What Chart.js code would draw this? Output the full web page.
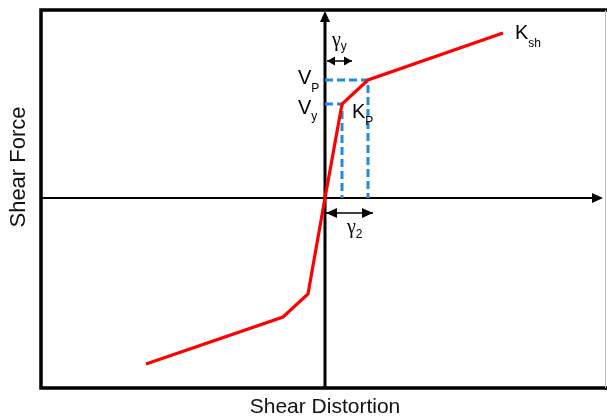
<!DOCTYPE html>
<html lang="en">
<head>
    <meta charset="UTF-8">
    <title>Shear Force vs Shear Distortion</title>
    <style>
        body { margin: 0; background: #fff; }
        #wrap { width: 607px; height: 419px; }
    </style>
</head>
<body>
    <div id="wrap"><canvas id="chart" width="607" height="419"></canvas></div>

    <script src="https://cdn.jsdelivr.net/npm/chart.js"></script>
    <script>
        // Curva fuerza-distorsión (unidades arbitrarias)
        const curveX = [-179, -42, -17, 0, 17, 43, 178];
        const curveY = [-166, -119, -96, 0, 94, 118, 165];

        // Puntos de fluencia y plástico
        const gammaY = 17, Vy = 94;
        const gamma2 = 43, Vp = 118;

        // Límites de los ejes
        const xMin = -284, xMax = 281;
        const yMin = -190, yMax = 188;

        // Etiquetas: texto, subíndice, posición (x, y en datos)
        const labels = [
            { t: 'V', s: 'P', x: -27, y: 114, dy: 8 },
            { t: 'V', s: 'y', x: -27, y: 84, dy: 6 },
            { t: 'K', s: 'P', x: 27, y: 80, dy: 7 },
            { t: 'K', s: 'sh', x: 190, y: 159, dy: 8 },
            { t: 'γ', s: 'y', x: 7, y: 152, dy: 4, serif: true },
            { t: 'γ', s: '2', x: 22, y: -35, dy: 5, serif: true }
        ];

        const FONT = '"Liberation Sans", Arial, sans-serif';
        const SERIF = '"Liberation Serif", "Times New Roman", serif';

        function pts(xs, ys) {
            return xs.map((x, i) => ({ x: x, y: ys[i] }));
        }

        function flecha(ctx, x, y, dir, len, half) {
            ctx.beginPath();
            ctx.moveTo(x, y);
            if (dir === 'right') { ctx.lineTo(x - len, y - half); ctx.lineTo(x - len, y + half); }
            if (dir === 'left')  { ctx.lineTo(x + len, y - half); ctx.lineTo(x + len, y + half); }
            if (dir === 'up')    { ctx.lineTo(x - half, y + len); ctx.lineTo(x + half, y + len); }
            ctx.closePath();
            ctx.fill();
        }

        const dibujo = {
            id: 'dibujo',
            beforeDatasetsDraw(chart) {
                const ctx = chart.ctx, a = chart.chartArea;
                ctx.save();
                ctx.strokeStyle = '#000';
                ctx.lineWidth = 3.5;
                ctx.beginPath();
                ctx.moveTo(a.right + 2, a.top);
                ctx.lineTo(a.left, a.top);
                ctx.lineTo(a.left, a.bottom);
                ctx.lineTo(a.right + 2, a.bottom);
                ctx.stroke();
                ctx.strokeStyle = '#bbb';
                ctx.lineWidth = 1;
                ctx.beginPath();
                ctx.moveTo(a.right - 0.5, a.top);
                ctx.lineTo(a.right - 0.5, a.bottom);
                ctx.stroke();
                ctx.restore();
            },
            afterDatasetsDraw(chart) {
                const ctx = chart.ctx, xs = chart.scales.x, ys = chart.scales.y;
                const px = v => xs.getPixelForValue(v), py = v => ys.getPixelForValue(v);
                ctx.save();
                ctx.fillStyle = '#000';
                ctx.strokeStyle = '#000';

                // puntas de los ejes
                flecha(ctx, px(278), py(0), 'right', 11, 5);
                flecha(ctx, px(0), py(187), 'up', 11, 5);

                // cota gamma_y
                ctx.lineWidth = 1.5;
                let yy = py(137);
                ctx.beginPath(); ctx.moveTo(px(2), yy); ctx.lineTo(px(27), yy); ctx.stroke();
                flecha(ctx, px(2), yy, 'left', 8, 4.5);
                flecha(ctx, px(27), yy, 'right', 8, 4.5);

                // cota gamma_2
                yy = py(-15);
                ctx.beginPath(); ctx.moveTo(px(1), yy); ctx.lineTo(px(48), yy); ctx.stroke();
                flecha(ctx, px(1), yy, 'left', 11, 5);
                flecha(ctx, px(48), yy, 'right', 11, 5);

                // etiquetas con subíndice
                ctx.textBaseline = 'alphabetic';
                ctx.textAlign = 'left';
                labels.forEach(l => {
                    const x0 = px(l.x), y0 = py(l.y);
                    ctx.font = '20px ' + (l.serif ? SERIF : FONT);
                    ctx.fillText(l.t, x0, y0);
                    const w = ctx.measureText(l.t).width;
                    ctx.font = '12px ' + FONT;
                    ctx.fillText(l.s, x0 + w, y0 + l.dy);
                });

                // títulos de los ejes
                ctx.fillStyle = '#111';
                ctx.font = '21px ' + FONT;
                ctx.textAlign = 'center';
                ctx.fillText('Shear Distortion', px(0), 413);
                ctx.translate(25, 167);
                ctx.rotate(-Math.PI / 2);
                ctx.font = '22px ' + FONT;
                ctx.fillText('Shear Force', 0, 0);
                ctx.restore();
            }
        };

        const ctx = document.getElementById('chart').getContext('2d');
        new Chart(ctx, {
            type: 'scatter',
            data: {
                datasets: [
                    {
                        data: pts(curveX, curveY),
                        showLine: true, borderColor: '#ff0000', borderWidth: 3.2,
                        pointRadius: 0, tension: 0, order: 0
                    },
                    {
                        data: [{ x: 0, y: Vp }, { x: gamma2, y: Vp }, { x: gamma2, y: 0 }],
                        showLine: true, borderColor: '#1e8ae8', borderWidth: 3,
                        borderDash: [8, 4], pointRadius: 0, tension: 0, order: 1
                    },
                    {
                        data: [{ x: 0, y: Vy }, { x: gammaY, y: Vy }, { x: gammaY, y: 0 }],
                        showLine: true, borderColor: '#1e8ae8', borderWidth: 3,
                        borderDash: [8, 4], pointRadius: 0, tension: 0, order: 1
                    },
                    {
                        data: [{ x: -283, y: 0 }, { x: 272, y: 0 }],
                        showLine: true, borderColor: '#000', borderWidth: 2,
                        pointRadius: 0, order: 2
                    },
                    {
                        data: [{ x: 0, y: yMin }, { x: 0, y: 180 }],
                        showLine: true, borderColor: '#000', borderWidth: 3,
                        pointRadius: 0, order: 2
                    }
                ]
            },
            options: {
                responsive: false,
                animation: false,
                layout: { padding: { left: 41, top: 10, right: 1, bottom: 31 } },
                plugins: { legend: { display: false }, tooltip: { enabled: false } },
                scales: {
                    x: { type: 'linear', display: false, min: xMin, max: xMax },
                    y: { type: 'linear', display: false, min: yMin, max: yMax }
                }
            },
            plugins: [dibujo]
        });
    </script>
</body>
</html>
